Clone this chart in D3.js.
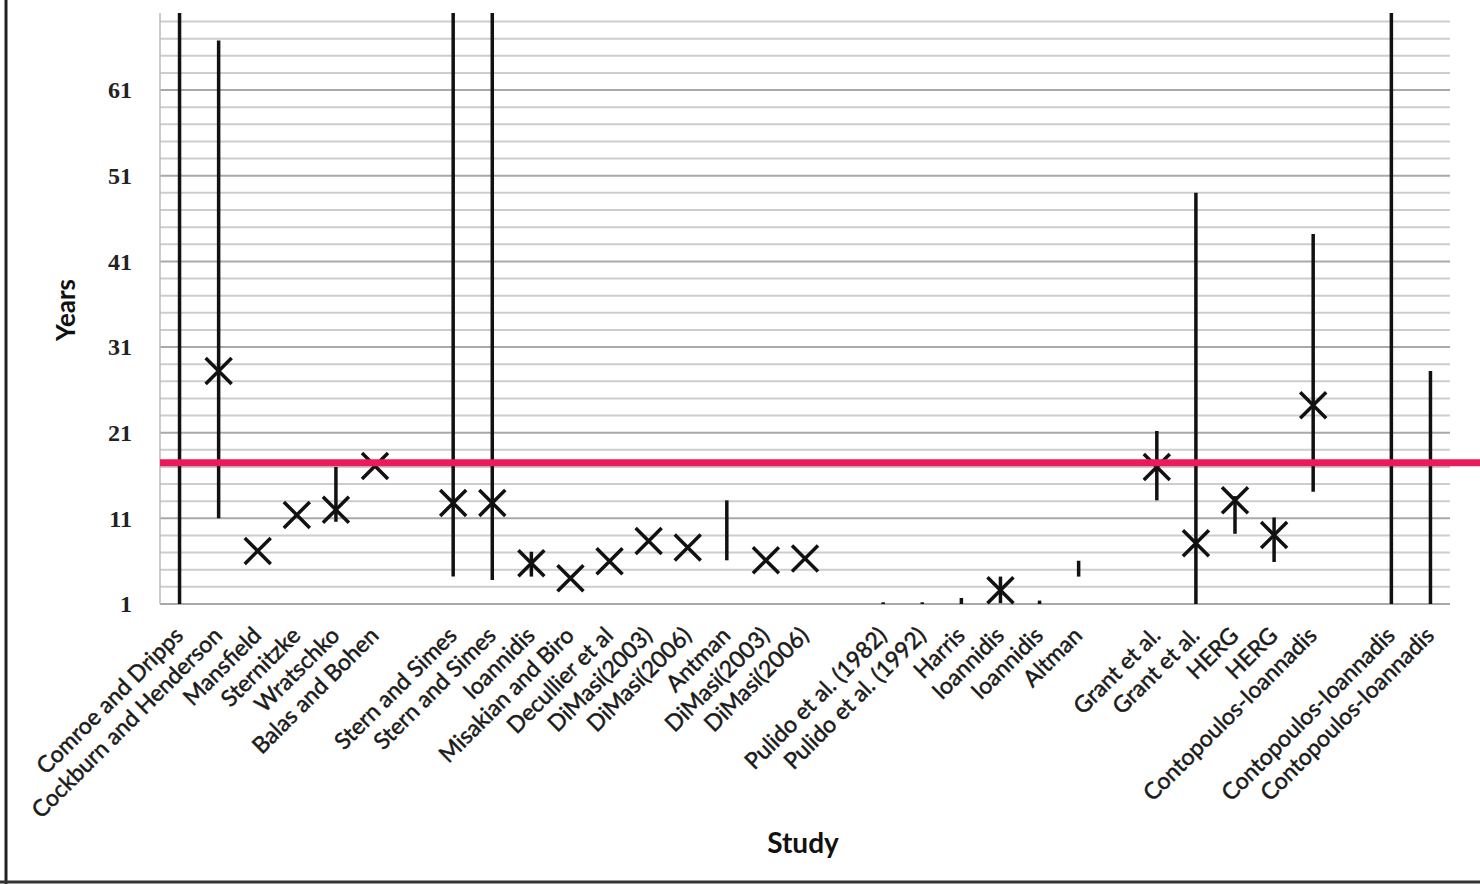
<!DOCTYPE html>
<html>
<head>
<meta charset="utf-8">
<script src="https://cdn.jsdelivr.net/npm/d3@7/dist/d3.min.js"></script>
<style>
  body { margin: 0; background: #fff; }
</style>
</head>
<body>
<svg id="chart" width="1480" height="884"></svg>
<script>
// studies along the x axis ("" = empty slot between groups)
var studies = [
  "Comroe and Dripps", "Cockburn and Henderson", "Mansfield", "Sternitzke", "Wratschko", "Balas and Bohen",
  "",
  "Stern and Simes", "Stern and Simes", "Ioannidis", "Misakian and Biro", "Decullier et al", "DiMasi(2003)",
  "DiMasi(2006)", "Antman", "DiMasi(2003)", "DiMasi(2006)",
  "",
  "Pulido et al. (1982)", "Pulido et al. (1992)", "Harris", "Ioannidis", "Ioannidis", "Altman",
  "",
  "Grant et al.", "Grant et al.", "HERG", "HERG", "Contopoulos-Ioannadis",
  "",
  "Contopoulos-Ioannadis", "Contopoulos-Ioannadis"
];

// range of years reported (null = none)
var lowYears = [
  1, 11, null, null, 10.6, null,
  null,
  4.2, 3.8, 4.2, null, null, null,
  null, 6.1, null, null,
  null,
  1, 1, 1, 1.1, 1, 4.2,
  null,
  13.1, 1, 9.2, 5.9, 14.1,
  null,
  1, 1
];
var highYears = [
  70, 66.8, null, null, 17.0, null,
  null,
  70, 70, 7.1, null, null, null,
  null, 13.1, null, null,
  null,
  1.2, 1.2, 1.7, 4.2, 1.4, 6.05,
  null,
  21.2, 49.0, 13.6, 11.1, 44.2,
  null,
  70, 28.2
];
// point estimates (X markers)
var pointYears = [
  null, 28.2, 7.2, 11.4, 12.0, 17.1,
  null,
  12.8, 12.8, 5.75, 4.0, 6.0, 8.35,
  7.6, null, 6.1, 6.3,
  null,
  null, null, null, 2.6, null, null,
  null,
  17.0, 8.1, 13.1, 9.05, 24.2,
  null,
  null, null
];

var benchmark = 17.5;   // red reference line
var yTicks = [1, 11, 21, 31, 41, 51, 61];

var svg = d3.select("#chart");

var mLeft = 160, mRight = 1450, mTop = 13, mBottom = 604;

var x = d3.scaleBand()
  .domain(d3.range(studies.length))
  .range([mLeft, mRight]);

var y = d3.scaleLinear()
  .domain([1, 70])
  .range([mBottom, mTop]);

// outer frame (left + bottom edge of the figure box)
svg.append("line").attr("x1", 6).attr("x2", 6).attr("y1", 0).attr("y2", 884)
  .attr("stroke", "#222").attr("stroke-width", 3);
svg.append("line").attr("x1", 0).attr("x2", 1480).attr("y1", 882).attr("y2", 882)
  .attr("stroke", "#333").attr("stroke-width", 3);

// horizontal grid every 2 years
svg.append("g")
  .selectAll("line")
  .data(d3.range(1, 70, 2))
  .enter()
  .append("line")
  .attr("x1", mLeft)
  .attr("x2", mRight)
  .attr("y1", function(d){ return y(d); })
  .attr("y2", function(d){ return y(d); })
  .attr("stroke", function(d){ return (d - 1) % 10 == 0 ? "#a9a9a9" : "#cdcdcd"; })
  .attr("stroke-width", 2);

// left axis line
svg.append("line")
  .attr("x1", mLeft).attr("x2", mLeft)
  .attr("y1", mTop).attr("y2", mBottom)
  .attr("stroke", "#bbb").attr("stroke-width", 1.5);

// y axis labels
var yAxis = svg.append("g")
  .attr("transform", "translate(" + mLeft + ",0)")
  .call(d3.axisLeft(y).tickValues(yTicks).tickSize(0).tickPadding(28).tickFormat(d3.format("d")));
yAxis.select(".domain").remove();
yAxis.selectAll("text")
  .attr("font-family", "'Liberation Serif', serif")
  .attr("font-weight", "bold")
  .attr("font-size", 24)
  .attr("fill", "#222");

// x axis labels
var xAxis = svg.append("g")
  .attr("transform", "translate(0," + mBottom + ")")
  .call(d3.axisBottom(x).tickSize(0).tickFormat(function(i){ return studies[i]; }));
xAxis.select(".domain").remove();
xAxis.selectAll("text")
  .attr("x", 0)
  .attr("y", 0)
  .attr("dy", 0)
  .attr("text-anchor", "end")
  .attr("transform", "translate(5,33) rotate(-45)")
  .attr("font-family", "Lato, 'Open Sans', sans-serif")
  .attr("font-size", 23)
  .attr("fill", "#1a1a1a")
  .attr("stroke", "#1a1a1a")
  .attr("stroke-width", 0.5);

// range lines
var ranged = d3.range(studies.length).filter(function(i){ return lowYears[i] != null; });
svg.append("g")
  .selectAll("line")
  .data(ranged)
  .enter()
  .append("line")
  .attr("x1", function(i){ return x(i) + x.bandwidth() / 2; })
  .attr("x2", function(i){ return x(i) + x.bandwidth() / 2; })
  .attr("y1", function(i){ return y(lowYears[i]); })
  .attr("y2", function(i){ return y(highYears[i]); })
  .attr("stroke", "#111")
  .attr("stroke-width", 3.5);

// X markers
var s = 13;
var pts = d3.range(studies.length).filter(function(i){ return pointYears[i] != null; });
svg.append("g")
  .selectAll("path")
  .data(pts)
  .enter()
  .append("path")
  .attr("transform", function(i){
    return "translate(" + (x(i) + x.bandwidth() / 2) + "," + y(pointYears[i]) + ")";
  })
  .attr("d", "M" + (-s) + "," + (-s) + "L" + s + "," + s + "M" + (-s) + "," + s + "L" + s + "," + (-s))
  .attr("fill", "none")
  .attr("stroke", "#111")
  .attr("stroke-width", 3.5);

// benchmark line
svg.append("line")
  .attr("x1", mLeft).attr("x2", 1480)
  .attr("y1", y(benchmark)).attr("y2", y(benchmark))
  .attr("stroke", "#ec1a5b")
  .attr("stroke-width", 7);

// axis titles
svg.append("text")
  .attr("transform", "translate(75,310) rotate(-90)")
  .attr("text-anchor", "middle")
  .attr("font-family", "Lato, 'Open Sans', sans-serif")
  .attr("font-weight", "bold")
  .attr("font-size", 26)
  .attr("fill", "#111")
  .text("Years");

svg.append("text")
  .attr("x", 803)
  .attr("y", 853)
  .attr("text-anchor", "middle")
  .attr("font-family", "Lato, 'Open Sans', sans-serif")
  .attr("font-weight", "bold")
  .attr("font-size", 28)
  .attr("fill", "#111")
  .text("Study");
</script>
</body>
</html>
